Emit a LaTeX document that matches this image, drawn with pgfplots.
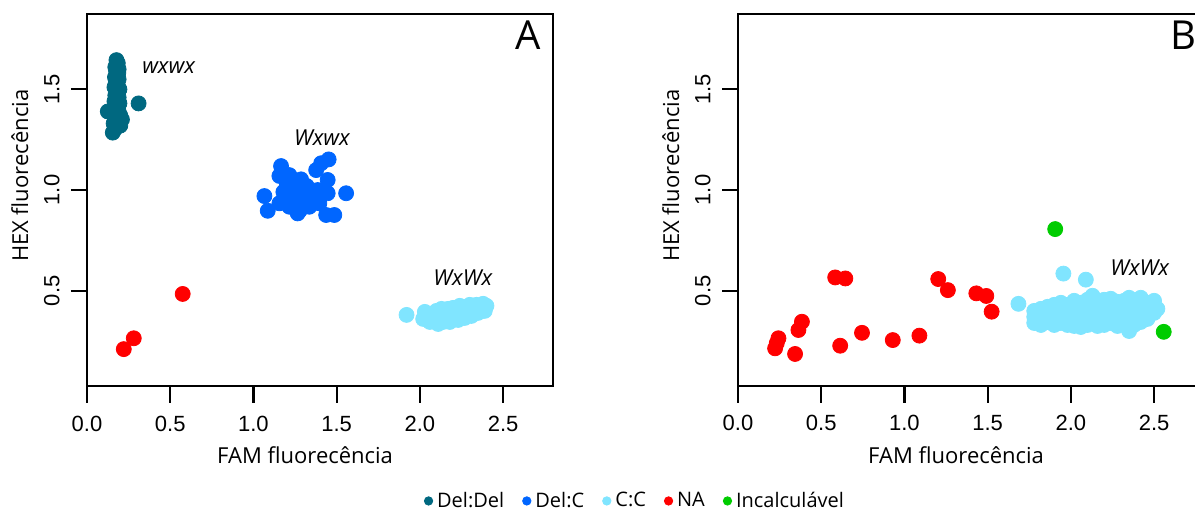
\documentclass[border=0pt]{standalone}
\usepackage{fontspec}
\setmainfont{Open Sans}
\newfontfamily\arialfont{Liberation Sans}
\usepackage{pgfplots}
\pgfplotsset{compat=1.18}

\definecolor{deldel}{RGB}{0,104,128}
\definecolor{delc}{RGB}{0,102,255}
\definecolor{cc}{RGB}{128,229,255}
\definecolor{na}{RGB}{255,0,0}
\definecolor{incalc}{RGB}{0,204,0}

\pgfplotsset{
  panel/.style={
    width=233pt, height=186pt, scale only axis,
    anchor=south west, clip=false,
    xmin=0, xmax=2.8, ymin=0.027, ymax=1.874,
    xtick={0,0.5,1,1.5,2,2.5}, ytick={0.5,1,1.5},
    tick pos=left, tick align=outside, major tick length=8pt,
    tick style={black, line width=0.9pt},
    axis line style={line width=0.9pt},
    /pgf/number format/assume math mode=true,
    ticklabel style={font=\arialfont\fontsize{11}{13}\selectfont,
      /pgf/number format/fixed, /pgf/number format/fixed zerofill,
      /pgf/number format/precision=1},
    xticklabel style={anchor=base, yshift=-14.5pt},
    yticklabel style={rotate=90, anchor=south, inner xsep=0pt, inner ysep=5.5pt},
    xlabel={FAM fluorecência}, ylabel={HEX fluorecência},
    label style={font=\fontsize{11}{13}\selectfont},
    xlabel style={at={(axis description cs:0.468,-0.207)}, anchor=base},
    ylabel style={at={(axis description cs:-0.1266,0.565)}, anchor=base},
  },
  pt/.style={only marks, mark=*, mark size=3.75pt, color=#1,
    mark options={draw=#1, fill=#1},
    legend image code/.code={\fill[#1] (0pt,0pt) circle (2.1pt);}},
}
% tick positions, kept as named points and drawn after the axes
\newcommand{\tickpoints}[1]{%
  \coordinate (#1x0) at (axis cs:0,0.027);
  \coordinate (#1x1) at (axis cs:0.5,0.027);
  \coordinate (#1x2) at (axis cs:1,0.027);
  \coordinate (#1x3) at (axis cs:1.5,0.027);
  \coordinate (#1x4) at (axis cs:2,0.027);
  \coordinate (#1x5) at (axis cs:2.5,0.027);
  \coordinate (#1y1) at (axis cs:0,0.5);
  \coordinate (#1y2) at (axis cs:0,1);
  \coordinate (#1y3) at (axis cs:0,1.5);
}

\begin{document}
\begin{tikzpicture}
% panel A
\begin{axis}[panel, at={(43.5pt,61pt)},
  legend columns=5,
  legend style={at={(axis description cs:1.178,-0.309)}, anchor=center,
    draw=none, font=\fontsize{10}{12}\selectfont,
    /tikz/every even column/.append style={column sep=7pt}},
]
\addplot[pt=deldel] coordinates {
 (0.177,1.645) (0.185,1.63) (0.17,1.61) (0.19,1.60) (0.175,1.59) (0.182,1.57)
 (0.168,1.56) (0.19,1.55) (0.175,1.54) (0.185,1.52) (0.165,1.51) (0.195,1.50)
 (0.178,1.49) (0.17,1.47) (0.19,1.46) (0.18,1.45) (0.165,1.44) (0.195,1.43)
 (0.175,1.42) (0.185,1.41) (0.16,1.40) (0.19,1.39) (0.125,1.39) (0.145,1.385)
 (0.175,1.38) (0.2,1.37) (0.17,1.36) (0.21,1.35) (0.185,1.34) (0.16,1.33)
 (0.2,1.32) (0.175,1.31) (0.155,1.285) (0.165,1.30) (0.31,1.43) (0.18,1.48)
 (0.172,1.53) (0.188,1.58) (0.176,1.62)
};
\addplot[pt=delc] coordinates {
 (1.166,1.119) (1.156,1.070) (1.216,1.074) (1.286,1.053) (1.377,1.099)
 (1.407,1.133) (1.452,1.152) (1.446,1.050) (1.557,0.984) (1.066,0.970)
 (1.086,0.897) (1.216,0.917) (1.266,0.884) (1.437,0.876) (1.486,0.876)
 (1.386,1.000) (1.446,0.984) (1.196,0.975) (1.316,0.967) (1.276,0.934)
 (1.156,0.934) (1.336,0.917) (1.396,0.934) (1.236,0.950) (1.25,1.00)
 (1.30,0.95) (1.20,1.02) (1.35,0.96) (1.28,0.90) (1.22,0.96) (1.32,1.02)
 (1.18,0.99) (1.26,1.03) (1.34,0.99) (1.29,0.98)
};
\addplot[pt=cc] coordinates {
 (1.92,0.38)
 (2.02,0.36) (2.03,0.395) (2.05,0.37) (2.06,0.345) (2.08,0.38) (2.09,0.355)
 (2.10,0.40) (2.11,0.335) (2.12,0.37) (2.13,0.41) (2.14,0.345) (2.15,0.39)
 (2.16,0.36) (2.17,0.41) (2.18,0.345) (2.19,0.38) (2.20,0.415) (2.21,0.36)
 (2.22,0.395) (2.23,0.355) (2.24,0.425) (2.25,0.38) (2.26,0.41) (2.27,0.365)
 (2.28,0.42) (2.29,0.39) (2.30,0.43) (2.31,0.375) (2.32,0.41) (2.33,0.395)
 (2.34,0.43) (2.35,0.39) (2.36,0.42) (2.37,0.40) (2.38,0.435) (2.39,0.41)
 (2.40,0.425) (2.39,0.40)
};
\addplot[pt=na] coordinates {(0.575,0.484) (0.281,0.264) (0.221,0.210)};
\addlegendimage{pt=incalc}
\legend{Del:Del, Del:C, C:C, NA, Incalculável}
\tickpoints{a}
\node[font=\itshape\fontsize{11}{13}\selectfont] at (axis cs:0.49,1.608) {wxwx};
\node[font=\itshape\fontsize{11}{13}\selectfont] at (axis cs:1.411,1.26) {Wxwx};
\node[font=\itshape\fontsize{11}{13}\selectfont] at (axis cs:2.258,0.563) {WxWx};
\node[font=\fontsize{20}{24}\selectfont] at (rel axis cs:0.946,0.944) {A};
\end{axis}

% panel B
\begin{axis}[panel, at={(369pt,61pt)}]
\addplot[pt=na] coordinates {
 (0.223,0.214) (0.243,0.264) (0.233,0.240) (0.343,0.186) (0.363,0.305)
 (0.384,0.346) (0.584,0.566) (0.645,0.561) (0.614,0.227) (0.745,0.291)
 (0.930,0.255) (1.090,0.277) (1.203,0.558) (1.261,0.503) (1.432,0.487)
 (1.492,0.474) (1.524,0.396)
};
\addplot[pt=cc] coordinates {
 (1.685,0.435) (1.955,0.585) (2.09,0.555)
 (1.78,0.34) (1.78,0.37) (1.78,0.40)
 (1.82,0.33) (1.82,0.36) (1.82,0.39) (1.82,0.41)
 (1.86,0.345) (1.86,0.38) (1.86,0.42)
 (1.90,0.33) (1.90,0.36) (1.90,0.395) (1.90,0.43)
 (1.94,0.34) (1.94,0.375) (1.94,0.41) (1.94,0.44)
 (1.98,0.33) (1.98,0.36) (1.98,0.39) (1.98,0.43)
 (2.02,0.325) (2.02,0.355) (2.02,0.385) (2.02,0.42) (2.02,0.45)
 (2.06,0.32) (2.06,0.35) (2.06,0.40) (2.06,0.44)
 (2.10,0.33) (2.10,0.37) (2.10,0.41) (2.10,0.455)
 (2.13,0.34) (2.13,0.38) (2.13,0.475)
 (2.16,0.325) (2.16,0.36) (2.16,0.40) (2.16,0.44)
 (2.20,0.33) (2.20,0.37) (2.20,0.415) (2.20,0.455)
 (2.24,0.34) (2.24,0.38) (2.24,0.42) (2.24,0.46)
 (2.28,0.325) (2.28,0.36) (2.28,0.40) (2.28,0.445)
 (2.32,0.33) (2.32,0.37) (2.32,0.41) (2.32,0.45)
 (2.35,0.30) (2.35,0.35) (2.35,0.39) (2.35,0.465)
 (2.38,0.33) (2.38,0.37) (2.38,0.42) (2.38,0.45)
 (2.42,0.345) (2.42,0.385) (2.42,0.43) (2.42,0.465)
 (2.46,0.36) (2.46,0.40) (2.46,0.44)
 (2.50,0.39) (2.50,0.42) (2.50,0.45) (2.52,0.41)
};
\addplot[pt=incalc] coordinates {(1.906,0.806) (2.558,0.296)};
\tickpoints{b}
\node[font=\itshape\fontsize{11}{13}\selectfont] at (axis cs:2.413,0.613) {WxWx};
\node[font=\fontsize{20}{24}\selectfont] at (rel axis cs:0.955,0.944) {B};
\end{axis}
% tick marks, drawn once the axes are finished
\foreach \p in {a,b} {
  \foreach \i in {0,...,5} {
    \draw[line width=1.1pt, black] (\p x\i) -- ++(0pt,-8.5pt);
  }
  \foreach \i in {1,2,3} {
    \draw[line width=1.1pt, black] (\p y\i) -- ++(-7pt,0pt);
  }
}
\pgfresetboundingbox
\useasboundingbox (0pt,0pt) rectangle (597.5pt,254pt);
\end{tikzpicture}
\end{document}
